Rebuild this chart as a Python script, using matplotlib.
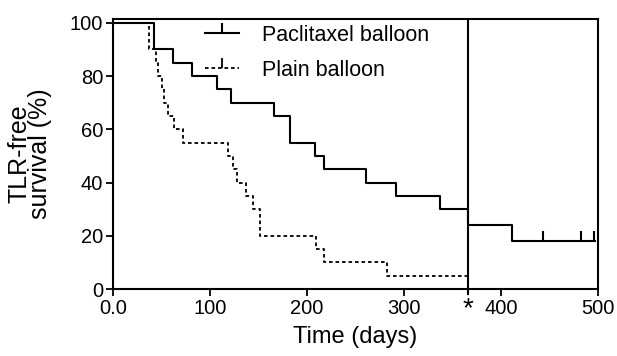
import matplotlib
matplotlib.use('Agg')
import matplotlib.pyplot as plt
from matplotlib.lines import Line2D

plt.rcParams['font.family'] = ['Liberation Sans', 'DejaVu Sans']

# Kaplan-Meier step data
pac_days = [0, 42, 62, 82, 107, 122, 166, 183, 208, 218, 261, 292, 337, 366, 411, 497]
pac_surv = [100, 90, 85, 80, 75, 70, 65, 55, 50, 45, 40, 35, 30, 24, 18, 18]
pac_censor_days = [443, 483, 496]
pac_censor_surv = [18, 18, 18]

plain_days = [0, 37, 44, 47, 51, 53, 57, 63, 72, 119, 124, 128, 137, 144, 152, 209, 218, 283, 366]
plain_surv = [100, 90, 85, 80, 75, 70, 65, 60, 55, 50, 45, 40, 35, 30, 20, 15, 10, 5, 5]

one_year = 366
xticks = [0, 100, 200, 300, 400, 500]
xticklabels = ['0.0', '100', '200', '300', '400', '500']
yticks = [0, 20, 40, 60, 80, 100]

fig = plt.figure(figsize=(6.17, 3.56), dpi=100)
ax = fig.add_axes([0.183, 0.188, 0.786, 0.759])

dash = (0, (2.0, 1.6))
ax.step(pac_days, pac_surv, where='post', color='k', lw=1.5)
ax.plot(pac_censor_days, pac_censor_surv, ls='none', marker=2, ms=7, mew=1.5, color='k')
ax.step(plain_days, plain_surv, where='post', color='k', lw=1.3, ls=dash)

ax.axvline(one_year, ymin=-0.02, ymax=1, color='k', lw=1.5, clip_on=False)
ax.annotate('*', xy=(one_year, 0), xycoords='data', xytext=(0, -5), textcoords='offset points',
            ha='center', va='top', fontsize=20)

ax.set_xlim(0, 500)
ax.set_ylim(0, 101.5)
ax.set_xticks(xticks)
ax.set_xticklabels(xticklabels)
ax.set_yticks(yticks)
ax.tick_params(direction='out', length=5, width=1.3, labelsize=14.5, pad=2)
for s in ax.spines.values():
    s.set_linewidth(1.5)

ax.set_xlabel('Time (days)', fontsize=17, labelpad=6)
ax.set_ylabel('TLR-free\nsurvival (%)', fontsize=18, linespacing=0.8, labelpad=13)

handles = [
    Line2D([], [], color='k', lw=1.5, marker=2, ms=7, mew=1.5),
    Line2D([], [], color='k', lw=1.3, ls=dash, marker=2, ms=7, mew=1.3),
]
ax.legend(handles, ['Paclitaxel balloon', 'Plain balloon'], loc='upper left',
          bbox_to_anchor=(0.15, 1.05), frameon=False, fontsize=15.5,
          handlelength=1.6, numpoints=1, labelspacing=0.65, handletextpad=1.05)

fig.savefig('out.png', dpi=100)
